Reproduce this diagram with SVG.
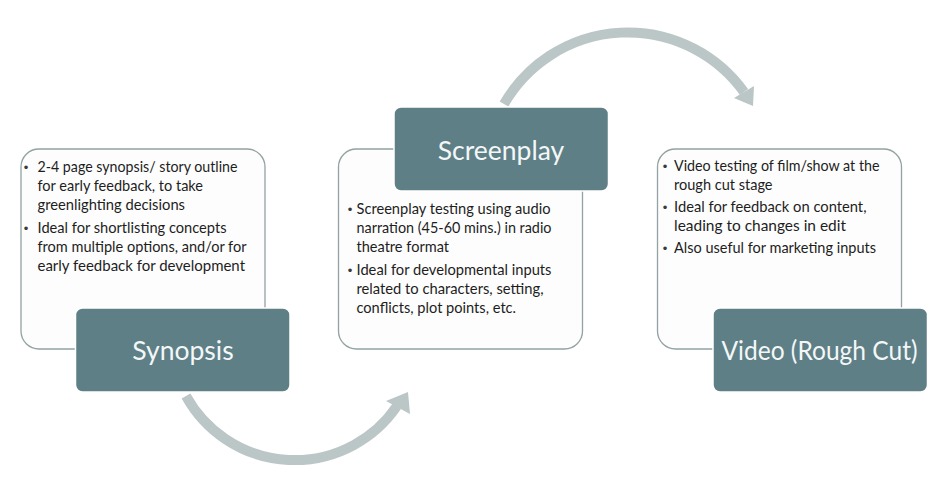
<svg xmlns="http://www.w3.org/2000/svg" width="950" height="478" viewBox="0 0 950 478">
<style>
.card{fill:#fdfdfd;stroke:#93a2a2;stroke-width:1.3}
.label{fill:#5e7f86;stroke:#ffffff;stroke-width:1.5}
.lt{font-family:Lato,"Liberation Sans",sans-serif;font-size:26.5px;fill:#f4f7f7;text-anchor:middle}
.bt{font-family:Lato,"Liberation Sans",sans-serif;font-size:15px;fill:#1e1e1e}
.bu{font-family:"Liberation Sans",sans-serif;font-size:13px;fill:#3a3a3a;text-anchor:middle}
.arc{fill:none;stroke:#bbc6c7;stroke-width:10}
.head{fill:#bbc6c7}
</style>
<rect width="950" height="478" fill="#ffffff"/>
<g id="connectors">
<path class="arc" d="M186 396 A124 124 0 0 0 397 406"/>
<polygon class="head" points="408,392 386,401 410,414"/>
<path class="arc" d="M504 104 A143 143 0 0 1 744 92"/>
<polygon class="head" points="753,106 734,98 754,86"/>
</g>
<g id="synopsis">
<rect class="card" x="21" y="149" width="244" height="200" rx="18"/>
<text class="bu" x="26" y="171.5">•</text>
<text class="bt" x="37.5" y="171.5" textLength="200" lengthAdjust="spacingAndGlyphs">2-4 page synopsis/ story outline</text>
<text class="bt" x="37.5" y="190.5" textLength="165.5" lengthAdjust="spacingAndGlyphs">for early feedback, to take</text>
<text class="bt" x="37.5" y="209.5" textLength="147.5" lengthAdjust="spacingAndGlyphs">greenlighting decisions</text>
<text class="bu" x="26" y="232.5">•</text>
<text class="bt" x="37.5" y="232.5" textLength="189" lengthAdjust="spacingAndGlyphs">Ideal for shortlisting concepts</text>
<text class="bt" x="37.5" y="251.5" textLength="209" lengthAdjust="spacingAndGlyphs">from multiple options, and/or for</text>
<text class="bt" x="37.5" y="270.5" textLength="207.5" lengthAdjust="spacingAndGlyphs">early feedback for development</text>
<rect class="label" x="75.5" y="308" width="214.5" height="84" rx="7"/>
<text class="lt" x="183" y="360">Synopsis</text>
</g>
<g id="screenplay">
<rect class="card" x="338.5" y="149" width="244" height="200" rx="18"/>
<text class="bu" x="350" y="213.5">•</text>
<text class="bt" x="356.5" y="213.5" textLength="194" lengthAdjust="spacingAndGlyphs">Screenplay testing using audio</text>
<text class="bt" x="356.5" y="232.5" textLength="195" lengthAdjust="spacingAndGlyphs">narration (45-60 mins.) in radio</text>
<text class="bt" x="356.5" y="251.5" textLength="92.5" lengthAdjust="spacingAndGlyphs">theatre format</text>
<text class="bu" x="350" y="274.5">•</text>
<text class="bt" x="356.5" y="274.5" textLength="195" lengthAdjust="spacingAndGlyphs">Ideal for developmental inputs</text>
<text class="bt" x="356.5" y="293.5" textLength="187" lengthAdjust="spacingAndGlyphs">related to characters, setting,</text>
<text class="bt" x="356.5" y="312.5" textLength="159.5" lengthAdjust="spacingAndGlyphs">conflicts, plot points, etc.</text>
<rect class="label" x="394" y="107" width="214.5" height="84" rx="7"/>
<text class="lt" x="501" y="160">Screenplay</text>
</g>
<g id="video">
<rect class="card" x="657.5" y="149" width="244" height="200" rx="18"/>
<text class="bu" x="665" y="171">•</text>
<text class="bt" x="674" y="171" textLength="205.5" lengthAdjust="spacingAndGlyphs">Video testing of film/show at the</text>
<text class="bt" x="674" y="189.5" textLength="98.5" lengthAdjust="spacingAndGlyphs">rough cut stage</text>
<text class="bu" x="665" y="212">•</text>
<text class="bt" x="674" y="212" textLength="192.5" lengthAdjust="spacingAndGlyphs">Ideal for feedback on content,</text>
<text class="bt" x="674" y="231" textLength="172" lengthAdjust="spacingAndGlyphs">leading to changes in edit</text>
<text class="bu" x="665" y="252.5">•</text>
<text class="bt" x="674" y="252.5" textLength="202" lengthAdjust="spacingAndGlyphs">Also useful for marketing inputs</text>
<rect class="label" x="713" y="308" width="214.5" height="84" rx="7"/>
<text class="lt" x="819.5" y="360" textLength="196" lengthAdjust="spacingAndGlyphs">Video (Rough Cut)</text>
</g>
</svg>
